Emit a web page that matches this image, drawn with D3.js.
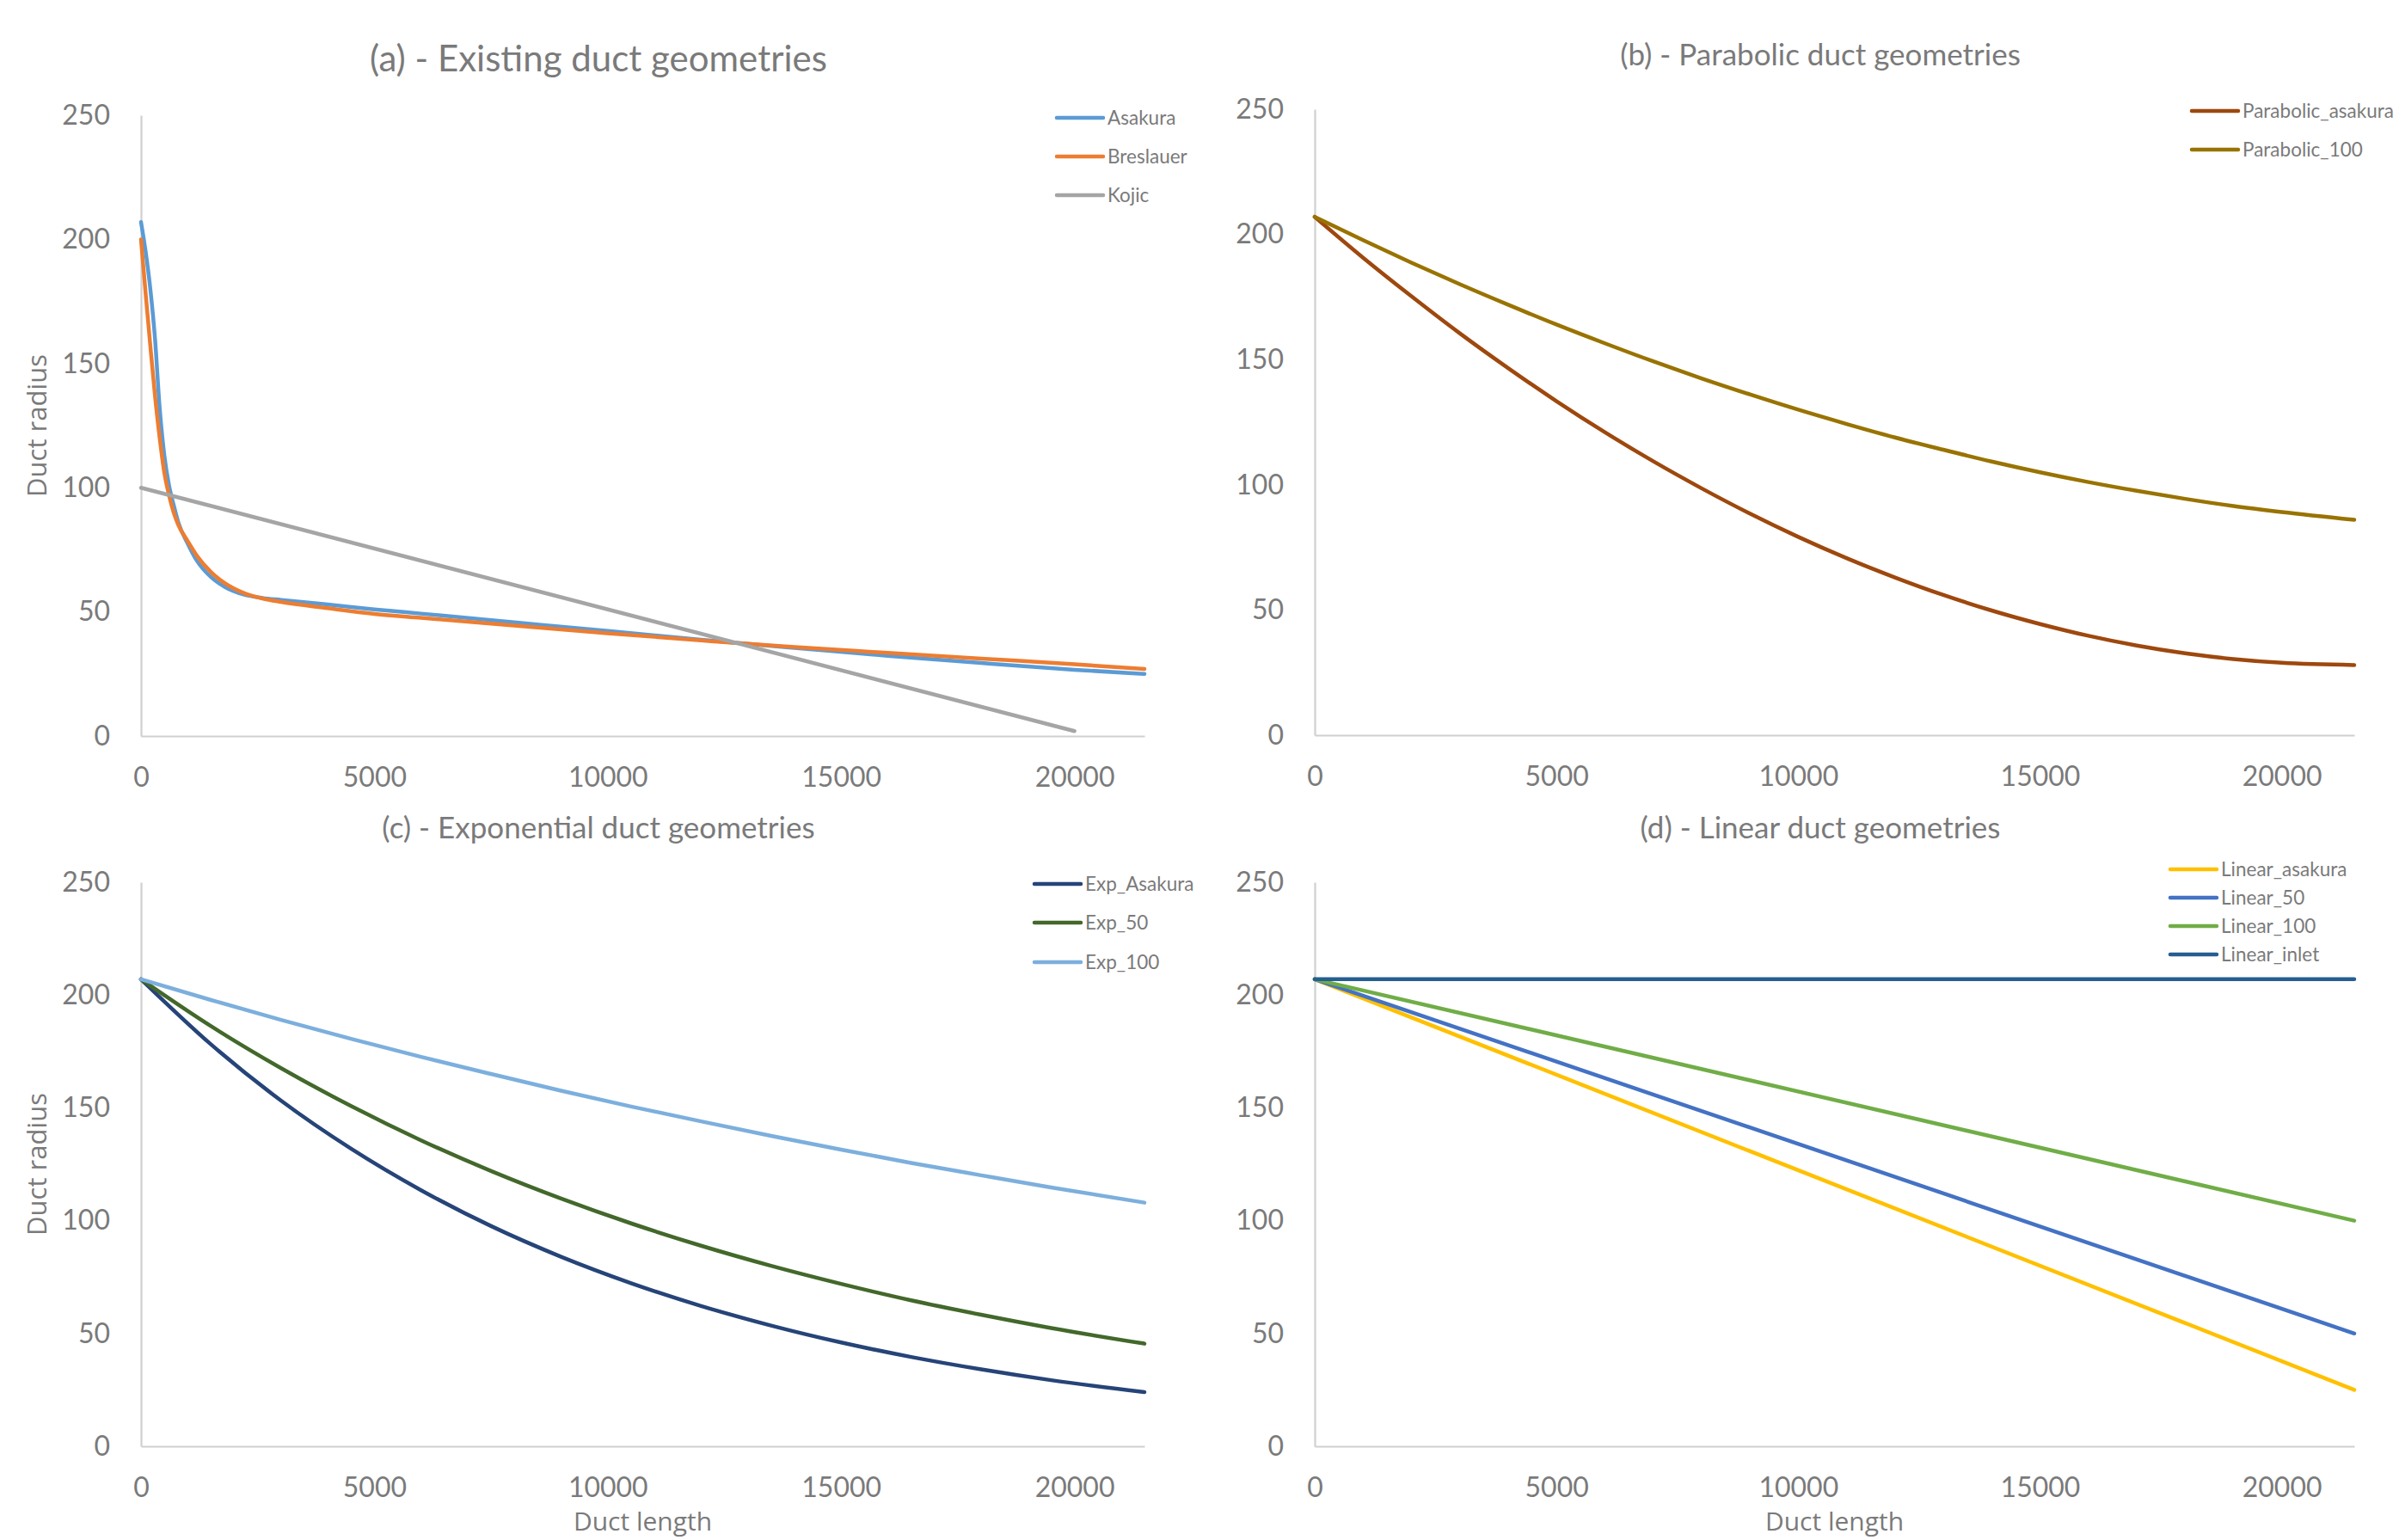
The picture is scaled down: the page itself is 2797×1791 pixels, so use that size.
<!DOCTYPE html>
<html>
<head>
<meta charset="utf-8">
<script src="https://cdn.jsdelivr.net/npm/d3@7"></script>
<style>
  body { margin: 0; background: #fff; }
  svg { display: block; }
</style>
</head>
<body>
<script>
// ---- data ----
var yTicks = [0, 50, 100, 150, 200, 250]
var xTicks = [0, 5000, 10000, 15000, 20000]

// (a) existing geometries
var existingX = [0, 100, 200, 300, 400, 500, 600, 700, 800, 1000, 1200, 1500, 1800, 2200, 2600, 3000, 4000, 5000, 6000, 8000, 10000, 12000, 13000, 14000, 16000, 18000, 20000, 21500]
var asakura   = [207, 195, 180, 160, 132, 113, 101, 93, 86, 77.5, 70.5, 64, 60, 57, 55.6, 54.8, 53, 51, 49.3, 45.8, 42.3, 38.8, 37.1, 35.5, 32.3, 29.4, 26.7, 25]
var breslauer = [200, 178, 157, 137, 120, 106, 97, 90, 85, 78.5, 72.5, 66, 61.5, 57.6, 55.4, 54, 51.5, 49.2, 47.6, 44.5, 41.4, 38.5, 37.1, 35.8, 33.5, 31.2, 28.9, 27]
var kojicX = [0, 20000]
var kojic  = [100, 2]

// (b) parabolic
var parabolicX = [0, 1000, 2000, 3000, 4000, 5000, 6000, 7000, 8000, 9000, 10000, 11000, 12000, 13000, 14000, 15000, 16000, 17000, 18000, 19000, 20000, 21500]
var parabolicAsakura = [207, 190.7, 175.3, 160.5, 146.6, 133.4, 121, 109.4, 98.6, 88.5, 79.2, 70.7, 63, 56, 49.8, 44.4, 39.7, 35.8, 32.7, 30.4, 28.9, 28]
var parabolic100     = [207, 197.7, 188.7, 180.1, 171.9, 164, 156.5, 149.3, 142.5, 136.1, 130, 124.3, 118.9, 114, 109.3, 105, 101.1, 97.6, 94.4, 91.5, 89.1, 86]

// (c) exponential
var expX = [0, 1500, 3000, 4500, 6000, 7500, 9000, 10500, 12000, 13500, 15000, 16500, 18000, 19500, 21500]
var expAsakura = [207, 178.1, 153.2, 131.9, 113.5, 97.6, 84, 72.3, 62.2, 53.5, 46, 39.6, 34.1, 29.3, 24]
var exp50      = [207, 186.2, 167.6, 150.8, 135.6, 122, 109.8, 98.8, 88.9, 80, 72, 64.7, 58.3, 52.4, 45.5]
var exp100     = [207, 197.8, 189, 180.6, 172.6, 165, 157.6, 150.6, 144, 137.6, 131.5, 125.6, 120.1, 114.7, 108]

// (d) linear
var linearX = [0, 21500]
var linearAsakura = [207, 25]
var linear50      = [207, 50]
var linear100     = [207, 100]
var linearInlet   = [207, 207]

const width = 2797
const height = 1791
const textGray = '#7a7a7a'
const axisGray = '#d0d0d0'

const svg = d3.select('body').append('svg')
    .attr('width', width)
    .attr('height', height)

svg.append('rect').attr('width', width).attr('height', height).attr('fill', '#fff')

function zip(xs, ys) {
    return xs.map((x, i) => [x, ys[i]])
}

// panel layouts (pixel boxes of each plot area)
var panels = [
    {title: '(a) - Existing duct geometries', titleSize: 42, titleX: 696, titleY: 83,
     left: 164, right: 1331, top: 134, bottom: 856, yLabel: true, xLabel: false,
     legendX: 1229, legendY: [137, 182, 227],
     series: [
        {name: 'Asakura', color: '#5B9BD5', data: zip(existingX, asakura)},
        {name: 'Breslauer', color: '#ED7D31', data: zip(existingX, breslauer)},
        {name: 'Kojic', color: '#A5A5A5', data: zip(kojicX, kojic)}
     ]},
    {title: '(b) - Parabolic duct geometries', titleSize: 35, titleX: 2117, titleY: 76,
     left: 1529, right: 2738, top: 127, bottom: 855, yLabel: false, xLabel: false,
     legendX: 2549, legendY: [129, 174],
     series: [
        {name: 'Parabolic_asakura', color: '#9E480E', data: zip(parabolicX, parabolicAsakura)},
        {name: 'Parabolic_100', color: '#997300', data: zip(parabolicX, parabolic100)}
     ]},
    {title: '(c) - Exponential duct geometries', titleSize: 35, titleX: 696, titleY: 975,
     left: 164, right: 1331, top: 1026, bottom: 1682, yLabel: true, xLabel: true,
     legendX: 1203, legendY: [1028, 1073, 1119],
     series: [
        {name: 'Exp_Asakura', color: '#264478', data: zip(expX, expAsakura)},
        {name: 'Exp_50', color: '#43682B', data: zip(expX, exp50)},
        {name: 'Exp_100', color: '#7CAFDD', data: zip(expX, exp100)}
     ]},
    {title: '(d) - Linear duct geometries', titleSize: 35, titleX: 2117, titleY: 975,
     left: 1529, right: 2738, top: 1026, bottom: 1682, yLabel: false, xLabel: true,
     legendX: 2524, legendY: [1011, 1044, 1077, 1110],
     series: [
        {name: 'Linear_asakura', color: '#FFC000', data: zip(linearX, linearAsakura)},
        {name: 'Linear_50', color: '#4472C4', data: zip(linearX, linear50)},
        {name: 'Linear_100', color: '#70AD47', data: zip(linearX, linear100)},
        {name: 'Linear_inlet', color: '#255E91', data: zip(linearX, linearInlet)}
     ]}
]

panels.forEach(p => {
    const x = d3.scaleLinear().domain([0, 21500]).range([p.left, p.right])
    const y = d3.scaleLinear().domain([0, 250]).range([p.bottom, p.top])

    const g = svg.append('g').attr('class', 'panel')

    // axes, Excel style: no tick marks, grey axis lines
    const yAxis = g.append('g')
        .attr('transform', `translate(${p.left},0)`)
        .call(d3.axisLeft(y).tickValues(yTicks).tickFormat(d3.format('d')).tickSize(0).tickSizeOuter(0).tickPadding(36))
    const xAxis = g.append('g')
        .attr('transform', `translate(0,${p.bottom})`)
        .call(d3.axisBottom(x).tickValues(xTicks).tickFormat(d3.format('d')).tickSize(0).tickSizeOuter(0).tickPadding(36))

    ;[xAxis, yAxis].forEach(a => {
        a.select('.domain').attr('stroke', axisGray).attr('stroke-width', 2.2)
        a.selectAll('text')
            .attr('fill', textGray)
            .attr('font-family', 'Lato, "Open Sans", sans-serif')
            .attr('font-size', 32)
    })

    // title
    g.append('text')
        .attr('x', p.titleX)
        .attr('y', p.titleY)
        .attr('text-anchor', 'middle')
        .attr('font-family', 'Lato, "Open Sans", sans-serif')
        .attr('font-size', p.titleSize)
        .attr('fill', textGray)
        .text(p.title)

    if (p.yLabel) {
        g.append('text')
            .attr('transform', `translate(54, ${(p.top + p.bottom) / 2}) rotate(-90)`)
            .attr('text-anchor', 'middle')
            .attr('font-family', '"Open Sans", sans-serif')
            .attr('font-size', 31)
            .attr('fill', textGray)
            .text('Duct radius')
    }
    if (p.xLabel) {
        // sits at the very bottom edge, as in the reference
        g.append('text')
            .attr('x', (p.left + p.right) / 2)
            .attr('y', 1780)
            .attr('text-anchor', 'middle')
            .attr('font-family', '"Open Sans", sans-serif')
            .attr('font-size', 30)
            .attr('fill', textGray)
            .text('Duct length')
    }

    const line = d3.line()
        .x(d => x(d[0]))
        .y(d => y(d[1]))
        .curve(d3.curveMonotoneX)

    g.selectAll('path.series')
        .data(p.series)
        .join('path')
        .attr('class', 'series')
        .attr('d', d => line(d.data))
        .attr('fill', 'none')
        .attr('stroke', d => d.color)
        .attr('stroke-width', 4.5)
        .attr('stroke-linecap', 'round')
        .attr('stroke-linejoin', 'round')

    // legend
    const legend = g.selectAll('g.legend')
        .data(p.series)
        .join('g')
        .attr('class', 'legend')
        .attr('transform', (d, i) => `translate(${p.legendX}, ${p.legendY[i]})`)

    legend.append('line')
        .attr('x1', 0).attr('x2', 54)
        .attr('stroke', d => d.color)
        .attr('stroke-width', 4.5)
        .attr('stroke-linecap', 'round')

    legend.append('text')
        .attr('x', 59)
        .attr('dy', '0.35em')
        .attr('font-family', 'Lato, "Open Sans", sans-serif')
        .attr('font-size', 22.5)
        .attr('fill', textGray)
        .text(d => d.name)
})
</script>
</body>
</html>
